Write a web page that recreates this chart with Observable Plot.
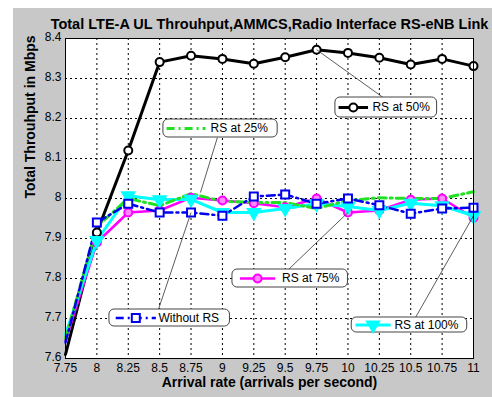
<!DOCTYPE html>
<html>
<head>
<meta charset="utf-8">
<script src="https://cdn.jsdelivr.net/npm/d3@7"></script>
<script src="https://cdn.jsdelivr.net/npm/@observablehq/plot@0.6"></script>
<style>
  html, body { margin: 0; padding: 0; background: #fff; }
  #wrap { position: relative; width: 492px; height: 397px; background: #fff; overflow: hidden; }
  #gray { position: absolute; left: 13px; top: 8px; right: 0; bottom: 0; background: #c8c8c8; }
  #chart { position: absolute; left: 0; top: 0; }
</style>
</head>
<body>
<div id="wrap"><div id="gray"></div><div id="chart"></div></div>
<script>
// ---- data ----
const arrival = [7.75, 8, 8.25, 8.5, 8.75, 9, 9.25, 9.5, 9.75, 10, 10.25, 10.5, 10.75, 11];
const xTickLabels = ["7.75","8","8.25","8.5","8.75","9","9.25","9.5","9.75","10","10.25","10.5","10.75","11"];
const yTicks = [7.6, 7.7, 7.8, 7.9, 8.0, 8.1, 8.2, 8.3, 8.4];
const yTickLabels = ["7.6","7.7","7.8","7.9","8","8.1","8.2","8.3","8.4"];

const rs50  = [7.61, 7.915, 8.12, 8.341, 8.357, 8.349, 8.337, 8.353, 8.372, 8.364, 8.352, 8.335, 8.349, 8.331];
const rs25  = [7.65, 7.93, 8.0, 7.982, 8.012, 7.993, 7.99, 7.99, 7.975, 7.995, 8.002, 8.0, 8.0, 8.017];
const noRS  = [7.64, 7.94, 7.987, 7.965, 7.965, 7.957, 8.005, 8.01, 7.987, 8.0, 7.983, 7.962, 7.975, 7.977];
const rs75  = [7.645, 7.89, 7.965, 7.97, 8.002, 7.995, 7.988, 7.978, 8.0, 7.965, 7.97, 7.997, 8.0, 7.952];
const rs100 = [7.66, 7.895, 8.007, 7.997, 7.998, 7.965, 7.965, 7.975, 7.987, 7.98, 7.97, 7.988, 7.982, 7.957];

const titleText = "Total LTE-A UL Throuhput,AMMCS,Radio Interface RS-eNB Link";
const xLabel = "Arrival rate (arrivals per second)";
const yLabel = "Total Throuhput in Mbps";

// annotation boxes (data units)
const annLabels   = ["RS at 50%", "RS at 25%", "RS at 75%", "Without RS", "RS at 100%"];
const annBoxX1    = [9.90, 8.53, 9.08, 8.10, 10.03];
const annBoxX2    = [10.71, 9.44, 10.00, 9.06, 10.95];
const annBoxY1    = [8.2525, 8.1975, 7.8225, 7.7225, 7.7025];
const annBoxY2    = [8.2025, 8.1525, 7.7775, 7.68, 7.665];
const annSampleX1 = [9.925, 8.555, 9.14, 8.15, 10.06];
const annSampleX2 = [10.16, 8.865, 9.42, 8.47, 10.34];
const annTextX    = [10.195, 8.905, 9.475, 8.49, 10.37];
const annFromX    = [10.28, 8.96, 9.526, 8.49, 10.538];
const annFromY    = [8.2525, 8.1525, 7.8225, 7.7225, 7.7025];
const annToX      = [9.75, 8.825, 10.0, 8.75, 11.0];
const annToY      = [8.372, 8.015, 7.965, 7.965, 7.957];

// ---- build ----
const rows = vals => arrival.map((x, i) => ({x, y: vals[i]}));
const idx = annLabels.map((d, i) => i);

const styles = [
  {stroke: "#000000", strokeWidth: 3, dash: null, symbol: "circle", fill: "white", r: 4, rotate: 0},
  {stroke: "#22e022", strokeWidth: 3, dash: "8,4,2,4", symbol: null},
  {stroke: "#ff00ff", strokeWidth: 2.5, dash: null, symbol: "circle", fill: "#ff88ff", r: 4, rotate: 0},
  {stroke: "#0000ee", strokeWidth: 2.5, dash: "8,4,2,4", symbol: "square", fill: "white", r: 4.5, rotate: 0},
  {stroke: "#00ffff", strokeWidth: 3, dash: null, symbol: "triangle", fill: "#00ffff", r: 4.5, rotate: 180}
];
const seriesVals = [rs50, rs25, rs75, noRS, rs100];
const annStyle = [styles[0], styles[1], styles[2], styles[3], styles[4]];

const marks = [
  Plot.frame({fill: "white", stroke: null}),
  Plot.ruleX(arrival, {stroke: "black", strokeWidth: 1, strokeDasharray: "2,3"}),
  Plot.ruleY(yTicks, {stroke: "black", strokeWidth: 1, strokeDasharray: "2,3"}),
];

// series lines + markers (lines enter from the lower-left edge; markers from x = 8 on)
const drawOrder = [0, 2, 4, 1, 3];
for (const k of drawOrder) {
  const s = styles[k];
  marks.push(Plot.line(rows(seriesVals[k]), {x: "x", y: "y", stroke: s.stroke, strokeWidth: s.strokeWidth,
    strokeDasharray: s.dash || undefined, strokeLinejoin: "round"}));
}
for (const k of drawOrder) {
  const s = styles[k];
  if (!s.symbol) continue;
  marks.push(Plot.dot(rows(seriesVals[k]).filter(d => d.x > arrival[0]), {x: "x", y: "y", symbol: s.symbol, r: s.r, rotate: s.rotate,
    stroke: s.stroke, strokeWidth: 2, fill: s.fill}));
}

// annotation arrows
marks.push(Plot.link(idx, {x1: i => annFromX[i], y1: i => annFromY[i], x2: i => annToX[i], y2: i => annToY[i],
  stroke: "#333", strokeWidth: 0.8}));
// annotation boxes
marks.push(Plot.rect(idx, {x1: i => annBoxX1[i], x2: i => annBoxX2[i], y1: i => annBoxY1[i], y2: i => annBoxY2[i],
  fill: "white", stroke: "#444", strokeWidth: 1, rx: 5}));
for (const i of idx) {
  const s = annStyle[i];
  const yc = (annBoxY1[i] + annBoxY2[i]) / 2;
  marks.push(Plot.link([i], {x1: () => annSampleX1[i], x2: () => annSampleX2[i], y1: () => yc, y2: () => yc,
    stroke: s.stroke, strokeWidth: s.strokeWidth, strokeDasharray: s.dash || undefined}));
  if (s.symbol) {
    marks.push(Plot.dot([i], {x: () => (annSampleX1[i] + annSampleX2[i]) / 2, y: () => yc, symbol: s.symbol,
      r: s.r, rotate: s.rotate, stroke: s.stroke, strokeWidth: 2, fill: s.fill}));
  }
}
marks.push(Plot.text(idx, {x: i => annTextX[i], y: i => (annBoxY1[i] + annBoxY2[i]) / 2, text: i => annLabels[i],
  textAnchor: "start", fontSize: 12, fill: "black"}));

// frame + axes
marks.push(Plot.frame({stroke: "black", strokeWidth: 1}));
marks.push(Plot.axisX(arrival, {tickSize: 0, tickPadding: 5, fontSize: 12, label: null,
  tickFormat: (d, i) => xTickLabels[arrival.indexOf(d)]}));
marks.push(Plot.axisY(yTicks, {tickSize: 0, tickPadding: 4, dy: -1.5, fontSize: 12, label: null,
  tickFormat: d => yTickLabels[yTicks.findIndex(v => Math.abs(v - d) < 1e-9)]}));

// titles
marks.push(Plot.text([titleText], {frameAnchor: "top", dy: -20, fontSize: 14.5, fontWeight: "bold", fill: "black"}));
marks.push(Plot.text([xLabel], {frameAnchor: "bottom", dy: 28, fontSize: 14, fontWeight: "bold", fill: "black"}));
marks.push(Plot.text([yLabel], {frameAnchor: "left", dx: -35, rotate: -90, fontSize: 14, fontWeight: "bold", fill: "black"}));

const chart = Plot.plot({
  width: 492,
  height: 397,
  marginLeft: 65,
  marginRight: 19,
  marginTop: 38,
  marginBottom: 39,
  x: {domain: [7.75, 11]},
  y: {domain: [7.6, 8.4]},
  style: {background: "transparent", fontFamily: "'Liberation Sans', Arial, sans-serif", fontSize: "12px", color: "black", overflow: "visible"},
  marks
});
document.getElementById("chart").appendChild(chart);
</script>
</body>
</html>
